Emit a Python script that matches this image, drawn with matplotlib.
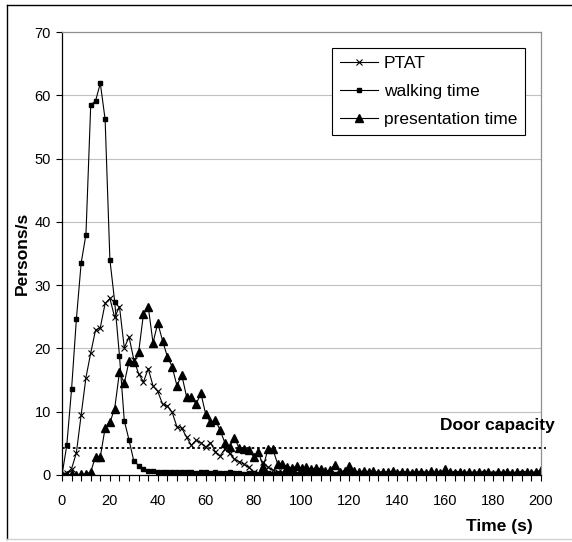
import numpy as np
import matplotlib
matplotlib.use('Agg')
import matplotlib.pyplot as plt
from matplotlib.lines import Line2D

plt.rcParams['font.family'] = ['Liberation Sans', 'DejaVu Sans']

# time in seconds, one sample every 2 s
time = np.arange(0, 201, 2)

ptat = [0, 0.3, 1.0, 3.5, 9.5, 15.4, 19.3, 22.9, 23.3, 27.1,
        27.9, 24.9, 26.6, 20.1, 21.8, 18.2, 16.0, 14.7, 16.8, 14.1,
        13.2, 11.2, 10.9, 9.9, 7.6, 7.4, 6.0, 4.7, 5.5, 5.1,
        4.4, 5.1, 3.7, 3.0, 4.1, 3.4, 2.5, 2.1, 1.7, 1.2,
        0.5, 0.1, 2.0, 1.2, 0.8, 0.5, 0.4, 0.3, 0.3, 0.2,
        0.3, 0.2, 0.2, 0.1, 0.2, 0.2, 0.1, 0.2, 0.1, 0.1,
        0.2, 0.1, 0.1, 0.1, 0.2, 0.1, 0.1, 0.1, 0.1, 0.1,
        0.1, 0.1, 0.1, 0.0, 0.1, 0.1, 0.1, 0.0, 0.1, 0.1,
        0.1, 0.0, 0.1, 0.1, 0.0, 0.1, 0.0, 0.1, 0.0, 0.1,
        0.0, 0.1, 0.0, 0.1, 0.0, 0.0, 0.1, 0.0, 0.0, 0.1,
        0.0]

walking = [0, 4.7, 13.6, 24.6, 33.5, 38.0, 58.5, 59.1, 61.9, 56.2,
           34.0, 27.4, 18.8, 8.6, 5.5, 2.2, 1.5, 0.9, 0.7, 0.6,
           0.5, 0.5, 0.4, 0.5, 0.4, 0.4, 0.5, 0.4, 0.3, 0.4,
           0.4, 0.3, 0.4, 0.3, 0.3, 0.4, 0.3, 0.3, 0.2, 0.3,
           0.3, 0.2, 0.3, 0.3, 0.2, 0.3, 0.2, 0.3, 0.2, 0.2,
           0.3, 0.2, 0.2, 0.3, 0.2, 0.2, 0.3, 0.2, 0.2, 0.2,
           0.3, 0.2, 0.2, 0.2, 0.3, 0.2, 0.2, 0.2, 0.2, 0.3,
           0.2, 0.2, 0.2, 0.2, 0.2, 0.3, 0.2, 0.2, 0.2, 0.2,
           0.2, 0.2, 0.3, 0.2, 0.2, 0.2, 0.2, 0.2, 0.3, 0.2,
           0.2, 0.2, 0.2, 0.2, 0.2, 0.2, 0.3, 0.2, 0.2, 0.2,
           0.3]

presentation = [0, 0, 0.1, 0, 0.2, 0.1, 0.5, 2.9, 2.9, 7.4,
                8.3, 10.5, 16.3, 14.5, 18.0, 17.9, 19.4, 25.4, 26.6, 20.9,
                24.0, 21.2, 18.7, 17.1, 14.1, 15.8, 12.4, 12.4, 11.2, 12.9,
                9.6, 8.3, 8.7, 7.1, 5.1, 4.5, 5.9, 4.2, 4.1, 3.9,
                2.9, 3.7, 1.3, 4.1, 4.1, 1.8, 1.8, 1.3, 1.1, 1.4,
                1.1, 1.2, 0.9, 1.1, 1.0, 0.6, 0.8, 1.6, 0.5, 0.7,
                1.5, 0.6, 0.4, 0.7, 0.5, 0.6, 0.3, 0.5, 0.4, 0.6,
                0.3, 0.5, 0.4, 0.3, 0.5, 0.4, 0.3, 0.6, 0.4, 0.3,
                0.9, 0.4, 0.3, 0.5, 0.3, 0.4, 0.3, 0.5, 0.3, 0.4,
                0.2, 0.5, 0.3, 0.4, 0.3, 0.5, 0.3, 0.4, 0.3, 0.5,
                0.8]

door_capacity = 4.3
series_labels = ['PTAT', 'walking time', 'presentation time']

W, H = 572, 542
fig = plt.figure(figsize=(W / 100, H / 100), dpi=100)
# plot area in pixels: x 62..541, y 32..475
ax = fig.add_axes([62 / W, 1 - 475 / H, (541 - 62) / W, (475 - 32) / H])

ax.plot(time, ptat, color='black', lw=0.8, marker='x', ms=4.5, mew=0.8, label=series_labels[0])
ax.plot(time, walking, color='black', lw=0.8, marker='s', ms=3.4, label=series_labels[1])
ax.plot(time, presentation, color='black', lw=0.8, marker='^', ms=6, label=series_labels[2])

# door capacity dotted line + label
ax.plot([0, 202], [door_capacity, door_capacity], color='black', lw=1.3,
        ls=(0, (1.5, 1.5)), clip_on=False)
ax.text(205.8, 7.1, 'Door capacity', ha='right', va='baseline', fontsize=12.5,
        fontweight='bold', clip_on=False)

ax.set_xlim(0, 200)
ax.set_ylim(0, 70)
ax.set_xticks(np.arange(0, 201, 20))
ax.set_xticks(np.arange(0, 201, 4), minor=True)
ax.set_yticks(np.arange(0, 71, 10))
ax.tick_params(axis='x', which='both', direction='out', length=4, width=0.8, labelsize=10.5, pad=10)
ax.tick_params(axis='y', direction='out', length=4, width=0.8, labelsize=10.5, pad=4)

ax.yaxis.grid(True, color='#c0c0c0', lw=0.8)
ax.set_axisbelow(True)
for s in ['left', 'bottom']:
    ax.spines[s].set_color('black')
    ax.spines[s].set_linewidth(0.9)
for s in ['top', 'right']:
    ax.spines[s].set_color('#909090')
    ax.spines[s].set_linewidth(0.9)

leg = ax.legend(loc='upper left', bbox_to_anchor=((332 - 62) / 479, (475 - 48) / 443),
                borderaxespad=0, fancybox=False, edgecolor='black', framealpha=1,
                fontsize=12.5, handlelength=2.2, handletextpad=0.35, labelspacing=0.75,
                borderpad=0.45)
leg.get_frame().set_linewidth(0.8)

ax.text((533 - 62) / 479, (475 - 526) / 443, 'Time (s)', transform=ax.transAxes,
        ha='right', va='center', fontsize=12.5, fontweight='bold')
fig.text(22 / W, 1 - 253 / H, 'Persons/s', rotation=90, ha='center', va='center',
         fontsize=12.5, fontweight='bold')

# outer chart border (left/top black, bottom faint)
fig.add_artist(Line2D([7 / W, 7 / W], [1 - 5 / H, 1 - 539 / H], transform=fig.transFigure, color='black', lw=1))
fig.add_artist(Line2D([7 / W, 1], [1 - 5 / H, 1 - 5 / H], transform=fig.transFigure, color='black', lw=1))
fig.add_artist(Line2D([7 / W, 1], [1 - 539 / H, 1 - 539 / H], transform=fig.transFigure, color='#d0d0d0', lw=1))

fig.savefig('out.png', dpi=100)
